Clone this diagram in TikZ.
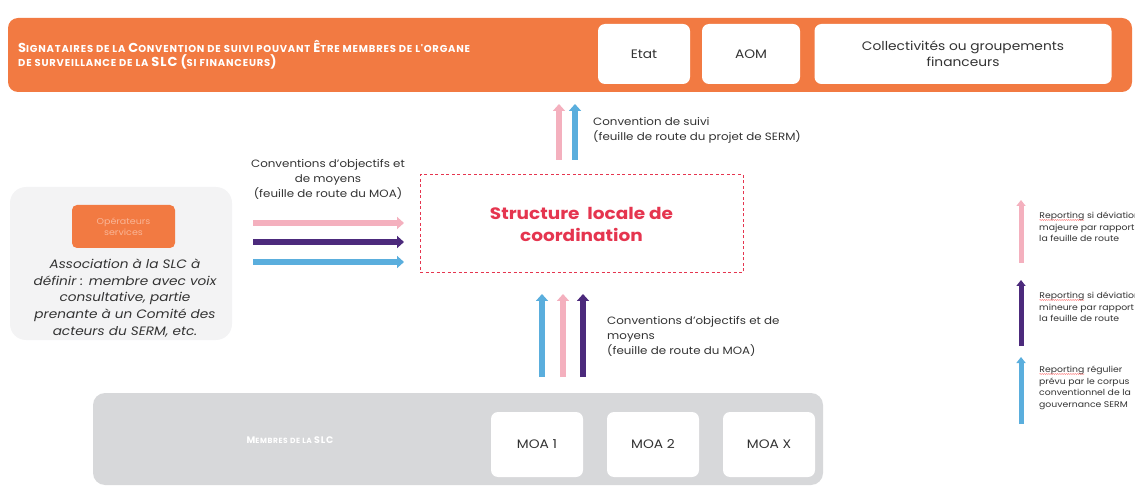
\documentclass[tikz,border=0pt]{standalone}
\usepackage{fontspec}
\setmainfont{Poppins}[FakeStretch=1.12]
\newfontfamily\capsfont{Poppins}[LetterSpace=8]
\usetikzlibrary{arrows.meta,decorations.pathmorphing}

\definecolor{orangeT}{HTML}{F27A42}
\definecolor{orangePale}{HTML}{F9B596}
\definecolor{pinkA}{HTML}{F4B0BE}
\definecolor{purpleA}{HTML}{4C2A7C}
\definecolor{blueA}{HTML}{5AAEDD}
\definecolor{redT}{HTML}{E5354F}
\definecolor{greyBar}{HTML}{D7D8DA}
\definecolor{paleBox}{HTML}{F3F3F4}
\definecolor{ink}{HTML}{333333}

% capitals of the hand-made small caps
\newcommand{\Bc}[1]{{\fontsize{13}{15}\selectfont #1}}
% spell-check style wave under a word
\newcommand{\spell}[1]{\tikz[baseline=(w.base)]{%
  \node[inner sep=0pt, outer sep=0pt, anchor=base west, text=ink] (w) at (0,0) {#1};
  \draw[red!70, line width=0.35pt, decorate, decoration={snake, amplitude=0.45pt, segment length=2.2pt}]
    ([yshift=-1.3pt]w.base west) -- ([yshift=-1.3pt]w.base east);}}

\begin{document}
\begin{tikzpicture}[x=1pt,y=-1pt,
  wbox/.style={fill=white, rounded corners=7pt, inner sep=0pt, align=center,
    text=ink, font=\fontsize{12.3}{16}\selectfont},
  lbl/.style={align=left, text=ink, font=\fontsize{10.6}{15}\selectfont, inner sep=0pt},
  legend/.style={align=left, text=ink, font=\fontsize{8.3}{11.5}\selectfont, inner sep=0pt, anchor=north west},
  arr/.style={line width=6.5pt, -{Triangle[width=12pt,length=7pt]}},
  larr/.style={line width=5pt, -{Triangle[width=9pt,length=6pt]}}
]
\useasboundingbox (0,0) rectangle (1135,486);
\clip (0,0) rectangle (1135,486);

% ---- signatories band
\node[fill=orangeT, rounded corners=10pt, minimum width=1124pt, minimum height=74pt, inner sep=0pt] (band) at (570,55) {};
\node[anchor=west, align=left, text=white, inner sep=0pt,
  font=\capsfont\fontsize{10}{14}\selectfont\bfseries] (bandtxt) at (18,55)
  {\Bc{S}IGNATAIRES DE LA \Bc{C}ONVENTION DE SUIVI POUVANT \Bc{Ê}TRE MEMBRES DE L'ORGANE\\
   DE SURVEILLANCE DE LA \Bc{SLC} \Bc{(}SI FINANCEURS\Bc{)}};
\node[wbox, minimum width=92pt, minimum height=60pt] (etat) at (644,54) {Etat};
\node[wbox, minimum width=98pt, minimum height=60pt] (aom) at (751,54) {AOM};
\node[wbox, minimum width=297pt, minimum height=60pt] (coll) at (963,54) {Collectivités ou groupements\\financeurs};

% ---- local coordination structure
\node[draw=redT, dashed, line width=1pt, dash pattern=on 3pt off 2.5pt,
  minimum width=323pt, minimum height=98pt, inner sep=0pt] (slc) at (581.5,224) {};
\node[text=redT, align=center, font=\fontsize{16.5}{22}\selectfont\bfseries] (slctxt) at (581.5,224)
  {Structure\ \ locale de\\coordination};

% follow-up convention arrows
\coordinate (tpA) at (559,160); \coordinate (tpB) at (559,104);
\coordinate (tbA) at (575,160); \coordinate (tbB) at (575,104);
\draw[arr, pinkA] (tpA) -- (tpB);
\draw[arr, blueA] (tbA) -- (tbB);
\node[lbl, anchor=west] (cslbl) at (593,130)
  {Convention de suivi\\(feuille de route du projet de SERM)};

% ---- operators box
\node[fill=paleBox, rounded corners=16pt, minimum width=222pt, minimum height=153pt, inner sep=0pt] (opbox) at (121,263.5) {};
\node[fill=orangeT, rounded corners=5pt, minimum width=103pt, minimum height=43pt, inner sep=0pt,
  text=orangePale, align=center, font=\fontsize{8.5}{11}\selectfont] (oper) at (123.5,226.5) {Opérateurs\\services};
\node[align=center, text=ink, inner sep=0pt, font=\fontsize{12.2}{16.7}\selectfont\itshape] (assoc) at (125,298)
  {Association à la SLC à\\définir : membre avec voix\\consultative, partie\\prenante à un Comité des\\acteurs du SERM, etc.};

% objectives conventions, horizontal
\node[lbl, align=center] (hlbl) at (328,179)
  {Conventions d'objectifs et\\de moyens\\(feuille de route du MOA)};
\coordinate (hpA) at (253,223); \coordinate (hpB) at (404,223);
\coordinate (huA) at (253,242); \coordinate (huB) at (404,242);
\coordinate (hbA) at (253,262); \coordinate (hbB) at (404,262);
\draw[arr, pinkA] (hpA) -- (hpB);
\draw[arr, purpleA] (huA) -- (huB);
\draw[arr, blueA] (hbA) -- (hbB);

% objectives conventions, vertical
\coordinate (vbA) at (542,377); \coordinate (vbB) at (542,294);
\coordinate (vpA) at (563,377); \coordinate (vpB) at (563,294);
\coordinate (vuA) at (583,377); \coordinate (vuB) at (583,294);
\draw[arr, blueA] (vbA) -- (vbB);
\draw[arr, pinkA] (vpA) -- (vpB);
\draw[arr, purpleA] (vuA) -- (vuB);
\node[lbl, anchor=west] (vlbl) at (607,336)
  {Conventions d'objectifs et de\\moyens\\(feuille de route du MOA)};

% ---- SLC members band
\node[fill=greyBar, rounded corners=12pt, minimum width=730pt, minimum height=92pt, inner sep=0pt] (members) at (458,439) {};
\node[text=white, inner sep=0pt, font=\capsfont\fontsize{7.5}{10}\selectfont\bfseries] (memtxt) at (290,440)
  {{\fontsize{9.5}{10}\selectfont M}EMBRES DE LA {\fontsize{9.5}{10}\selectfont SLC}};
\node[wbox, minimum width=92pt, minimum height=65pt] (moa1) at (537,444.5) {MOA 1};
\node[wbox, minimum width=92pt, minimum height=65pt] (moa2) at (653,444.5) {MOA 2};
\node[wbox, minimum width=92pt, minimum height=65pt] (moax) at (769,444.5) {MOA X};

% ---- legend
\coordinate (lpA) at (1021,263); \coordinate (lpB) at (1021,200);
\coordinate (luA) at (1021,346); \coordinate (luB) at (1021,280);
\coordinate (lbA) at (1021,424); \coordinate (lbB) at (1021,357);
\draw[larr, pinkA] (lpA) -- (lpB);
\draw[larr, purpleA] (luA) -- (luB);
\draw[larr, blueA] (lbA) -- (lbB);
\node[legend] (lgp) at (1039,212) {\spell{Reporting} si déviation\\majeure par rapport à\\la feuille de route};
\node[legend] (lgu) at (1039,292) {\spell{Reporting} si déviation\\mineure par rapport à\\la feuille de route};
\node[legend] (lgb) at (1039,366) {\spell{Reporting} régulier\\prévu par le corpus\\conventionnel de la\\gouvernance SERM};
\end{tikzpicture}
\end{document}
